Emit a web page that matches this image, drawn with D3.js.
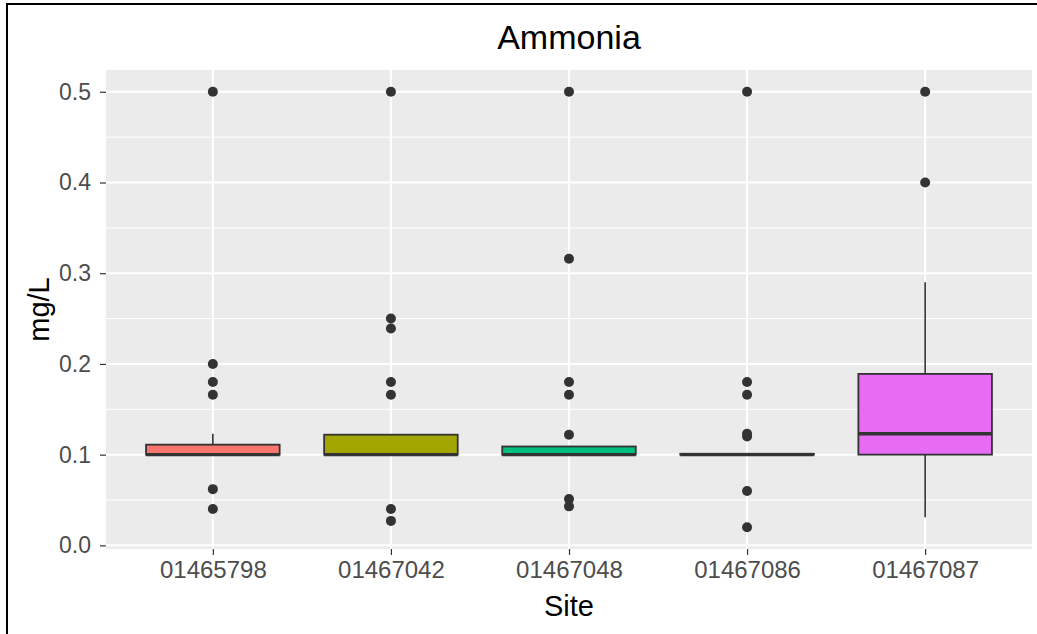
<!DOCTYPE html>
<html>
<head>
<meta charset="utf-8">
<script src="https://cdn.jsdelivr.net/npm/d3@7"></script>
<style>
  body { margin: 0; background: #fff; }
  text { font-family: "Liberation Sans", Arial, sans-serif; }
</style>
</head>
<body>
<script>
// Chart surface and panel margins
var W = 1037, H = 634;
var margin = {top: 70, right: 5, bottom: 85, left: 106};

var width = W - margin.left - margin.right,
    height = H - margin.top - margin.bottom;

// Data (box stats per site, mg/L)
var sites = ["01465798", "01467042", "01467048", "01467086", "01467087"];
var lower = [0.1, 0.1, 0.1, 0.1, 0.031];
var q1 = [0.1, 0.1, 0.1, 0.1, 0.1];
var median = [0.1, 0.1, 0.1, 0.1, 0.123];
var q3 = [0.111, 0.122, 0.109, 0.101, 0.189];
var upper = [0.123, 0.122, 0.109, 0.101, 0.29];
var outliers = [
    [0.5, 0.2, 0.18, 0.166, 0.062, 0.04],
    [0.5, 0.25, 0.239, 0.18, 0.166, 0.04, 0.027],
    [0.5, 0.316, 0.18, 0.166, 0.122, 0.051, 0.043],
    [0.5, 0.18, 0.166, 0.123, 0.12, 0.06, 0.02],
    [0.5, 0.4]
];
var fills = ["#F8766D", "#A3A500", "#00BF7D", "#00B0F6", "#E76BF3"];
var yTicks = [0, 0.1, 0.2, 0.3, 0.4, 0.5];
var yMinor = [0.05, 0.15, 0.25, 0.35, 0.45];

function draw() {
    const svg = d3.select("body").append("svg")
        .attr("width", W)
        .attr("height", H);

    // frame lines seen on the left and top edges
    svg.append("line").attr("x1", 7).attr("x2", 7).attr("y1", 3).attr("y2", H)
        .attr("stroke", "#000").attr("stroke-width", 2);
    svg.append("line").attr("x1", 6).attr("x2", W).attr("y1", 4).attr("y2", 4)
        .attr("stroke", "#000").attr("stroke-width", 2);

    const g = svg.append("g")
        .attr("transform", `translate(${margin.left},${margin.top})`);

    // ggplot-like expansion: 5% on y, 0.6 units on discrete x
    const y = d3.scaleLinear()
        .domain([-0.004, 0.524])
        .range([height, 0]);

    const step = width / (sites.length - 1 + 1.2);
    const x = d3.scalePoint()
        .domain(sites)
        .range([0.6 * step, width - 0.6 * step]);
    const bw = 0.75 * step;

    // panel background and grid
    g.append("rect")
        .attr("width", width).attr("height", height)
        .attr("fill", "#EBEBEB");

    g.selectAll(".minor").data(yMinor).join("line")
        .attr("x1", 0).attr("x2", width)
        .attr("y1", d => y(d)).attr("y2", d => y(d))
        .attr("stroke", "#fff").attr("stroke-width", 1);

    g.selectAll(".majY").data(yTicks).join("line")
        .attr("x1", 0).attr("x2", width)
        .attr("y1", d => y(d)).attr("y2", d => y(d))
        .attr("stroke", "#fff").attr("stroke-width", 2);

    g.selectAll(".majX").data(sites).join("line")
        .attr("x1", d => x(d)).attr("x2", d => x(d))
        .attr("y1", 0).attr("y2", height)
        .attr("stroke", "#fff").attr("stroke-width", 2);

    // boxes
    sites.forEach(function (s, i) {
        const cx = x(s);
        // whiskers
        g.append("line")
            .attr("x1", cx).attr("x2", cx)
            .attr("y1", y(q3[i])).attr("y2", y(upper[i]))
            .attr("stroke", "#333").attr("stroke-width", 1.6);
        g.append("line")
            .attr("x1", cx).attr("x2", cx)
            .attr("y1", y(q1[i])).attr("y2", y(lower[i]))
            .attr("stroke", "#333").attr("stroke-width", 1.6);
        // box
        g.append("rect")
            .attr("x", cx - bw / 2)
            .attr("y", y(q3[i]))
            .attr("width", bw)
            .attr("height", y(q1[i]) - y(q3[i]))
            .attr("fill", fills[i])
            .attr("stroke", "#333").attr("stroke-width", 1.8);
        // median
        g.append("line")
            .attr("x1", cx - bw / 2).attr("x2", cx + bw / 2)
            .attr("y1", y(median[i])).attr("y2", y(median[i]))
            .attr("stroke", "#333").attr("stroke-width", 3.4);
        // outliers
        g.selectAll(null).data(outliers[i]).join("circle")
            .attr("cx", cx)
            .attr("cy", d => y(d))
            .attr("r", 5)
            .attr("fill", "#333");
    });

    // axes
    const yAxis = g.append("g")
        .call(d3.axisLeft(y).tickValues(yTicks).tickFormat(d3.format(".1f")).tickSize(6).tickPadding(9));
    yAxis.select(".domain").remove();
    yAxis.selectAll("line").attr("stroke", "#333").attr("stroke-width", 1.2);
    yAxis.selectAll("text")
        .attr("fill", "#4D4D4D")
        .style("font-size", "23px");

    const xAxis = g.append("g")
        .attr("transform", `translate(0,${height})`)
        .call(d3.axisBottom(x).tickSize(6).tickPadding(6));
    xAxis.select(".domain").remove();
    xAxis.selectAll("line").attr("stroke", "#333").attr("stroke-width", 1.2);
    xAxis.selectAll("text")
        .attr("fill", "#4D4D4D")
        .style("font-size", "24px");

    // titles
    svg.append("text")
        .attr("x", margin.left + width / 2)
        .attr("y", 49)
        .attr("text-anchor", "middle")
        .style("font-size", "34px")
        .text("Ammonia");

    svg.append("text")
        .attr("x", margin.left + width / 2)
        .attr("y", 616)
        .attr("text-anchor", "middle")
        .style("font-size", "29px")
        .text("Site");

    svg.append("text")
        .attr("transform", `translate(49,${margin.top + height / 2}) rotate(-90)`)
        .attr("text-anchor", "middle")
        .style("font-size", "29px")
        .text("mg/L");
}

d3.select(window).on("load", draw);
</script>
</body>
</html>
